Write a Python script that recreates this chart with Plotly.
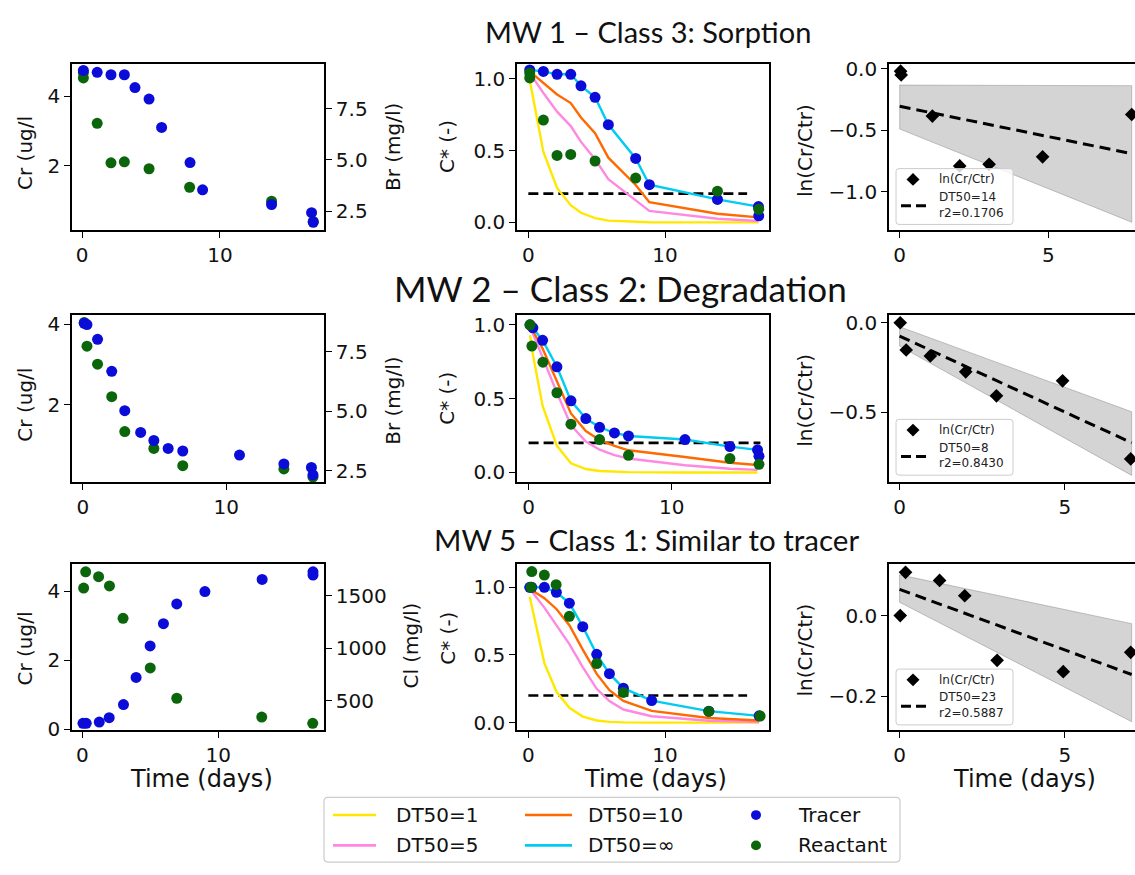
import plotly.graph_objects as go

W, H = 1135, 875

# ---------------- DATA ----------------
# MW 1 - Class 3: Sorption
mw1_br_t  = [0.1, 1.1, 2.1, 3.07, 3.84, 4.86, 5.77, 7.83, 8.74, 13.74, 16.64, 16.76]
mw1_br    = [9.38, 9.29, 9.17, 9.17, 8.54, 7.98, 6.59, 4.87, 3.54, 2.82, 2.42, 1.95]
mw1_cr_t  = [0.1, 0.1, 1.1, 2.1, 3.07, 4.86, 7.8, 13.74, 16.76]
mw1_cr    = [4.52, 4.68, 3.22, 2.09, 2.12, 1.92, 1.39, 0.99, 0.41]
mw1_ctr_t = [0.1, 1.1, 2.1, 3.1, 3.85, 4.88, 5.85, 7.85, 8.85, 13.83, 16.83, 16.85]
mw1_ctr   = [1.06, 1.05, 1.03, 1.03, 0.95, 0.87, 0.68, 0.445, 0.262, 0.16, 0.11, 0.046]
mw1_cre_t = [0.1, 0.1, 1.1, 2.1, 3.1, 4.88, 7.85, 13.83, 16.85]
mw1_cre   = [1.039, 1.005, 0.712, 0.466, 0.473, 0.427, 0.308, 0.217, 0.091]
mw1_mod_t = [0.1, 1.1, 2.1, 3.1, 3.85, 4.88, 5.85, 7.85, 8.85, 13.83, 16.83]
mw1_dt1   = [0.99, 0.49, 0.24, 0.12, 0.067, 0.03, 0.012, 0.003, 0.001, 0.0, 0.0]
mw1_dt5   = [1.04, 0.90, 0.77, 0.67, 0.56, 0.44, 0.30, 0.15, 0.08, 0.025, 0.01]
mw1_dt10  = [1.05, 0.97, 0.89, 0.83, 0.73, 0.62, 0.45, 0.26, 0.14, 0.06, 0.035]
mw1_dtinf = [1.06, 1.05, 1.03, 1.03, 0.95, 0.87, 0.68, 0.445, 0.262, 0.16, 0.11]
mw1_thr_t = [0.0, 16.0]
mw1_ln_t  = [0.03, 0.05, 1.1, 2.02, 3.01, 4.81, 7.81]
mw1_ln    = [-0.02, -0.05, -0.385, -0.79, -0.777, -0.716, -0.372]
mw1_fit_t = [0.0, 7.81]
mw1_fit   = [-0.305, -0.69]
mw1_ci_up = [-0.133, -0.138]
mw1_ci_lo = [-0.49, -1.247]
mw1_dt50, mw1_r2 = "14", "0.1706"

# MW 2 - Class 2: Degradation
mw2_br_t  = [0.09, 0.28, 1.02, 2.01, 2.92, 4.03, 4.95, 5.95, 6.97, 10.93, 14.03, 15.95, 16.06]
mw2_br    = [8.68, 8.63, 8.01, 6.67, 5.02, 4.11, 3.77, 3.44, 3.33, 3.16, 2.79, 2.64, 2.33]
mw2_cr_t  = [0.09, 0.28, 1.02, 2.01, 2.92, 4.95, 6.97, 14.03, 16.06]
mw2_cr    = [4.05, 3.46, 3.01, 2.2, 1.33, 0.91, 0.48, 0.40, 0.2]
mw2_ctr_t = [0.1, 0.3, 0.98, 1.98, 2.96, 4.0, 4.96, 6.0, 6.98, 10.93, 14.07, 16.0, 16.1]
mw2_ctr   = [1.0, 0.98, 0.895, 0.716, 0.485, 0.365, 0.306, 0.268, 0.247, 0.223, 0.175, 0.153, 0.11]
mw2_cre_t = [0.1, 0.23, 1.0, 1.98, 2.96, 4.96, 6.98, 14.07, 16.1]
mw2_cre   = [1.0, 0.856, 0.747, 0.54, 0.327, 0.223, 0.116, 0.094, 0.055]
mw2_mod_t = [0.1, 0.3, 0.98, 1.98, 2.96, 4.0, 4.96, 6.0, 6.98, 10.93, 14.07, 16.0]
mw2_dt1   = [0.93, 0.80, 0.45, 0.18, 0.062, 0.023, 0.01, 0.004, 0.002, 0.0, 0.0, 0.0]
mw2_dt5   = [0.99, 0.94, 0.78, 0.54, 0.32, 0.21, 0.154, 0.117, 0.094, 0.049, 0.025, 0.017]
mw2_dt10  = [0.99, 0.96, 0.84, 0.62, 0.40, 0.28, 0.22, 0.18, 0.15, 0.105, 0.066, 0.05]
mw2_dtinf = [1.0, 0.98, 0.895, 0.716, 0.485, 0.365, 0.306, 0.268, 0.247, 0.223, 0.175, 0.153]
mw2_thr_t = [0.0, 16.2]
mw2_ln_t  = [0.02, 0.2, 0.93, 2.0, 2.93, 4.93, 6.99]
mw2_ln    = [0.0, -0.152, -0.185, -0.274, -0.408, -0.324, -0.76]
mw2_fit_t = [0.0, 7.02]
mw2_fit   = [-0.074, -0.67]
mw2_ci_up = [-0.022, -0.497]
mw2_ci_lo = [-0.13, -0.852]
mw2_dt50, mw2_r2 = "8", "0.8430"

# MW 5 - Class 1: Similar to tracer
mw5_cl_t  = [0.05, 0.29, 1.25, 1.98, 3.03, 3.96, 4.99, 5.97, 6.95, 9.02, 13.23, 16.97, 16.97]
mw5_cl    = [284, 284, 297, 338, 463, 722, 1022, 1234, 1422, 1540, 1656, 1728, 1697]
mw5_cr_t  = [0.1, 0.25, 1.2, 2.0, 3.0, 5.0, 6.95, 13.2, 16.95]
mw5_cr    = [4.1, 4.57, 4.43, 4.16, 3.22, 1.78, 0.9, 0.354, 0.17]
mw5_ctr_t = [0.1, 0.25, 1.17, 2.05, 3.0, 3.98, 5.0, 5.93, 6.95, 9.02, 13.2, 16.88]
mw5_ctr   = [1.0, 1.0, 1.0, 0.963, 0.883, 0.709, 0.505, 0.362, 0.255, 0.163, 0.085, 0.05]
mw5_cre_t = [0.2, 0.25, 1.17, 2.03, 3.0, 5.0, 6.95, 13.2, 16.95]
mw5_cre   = [1.0, 1.116, 1.09, 1.019, 0.786, 0.437, 0.223, 0.083, 0.049]
mw5_mod_t = [0.1, 1.17, 2.05, 3.0, 3.98, 5.0, 5.93, 6.95, 9.02, 13.2, 16.88]
mw5_dt1   = [0.93, 0.44, 0.23, 0.11, 0.045, 0.016, 0.006, 0.002, 0.0, 0.0, 0.0]
mw5_dt5   = [0.99, 0.85, 0.72, 0.58, 0.41, 0.25, 0.16, 0.097, 0.047, 0.014, 0.005]
mw5_dt10  = [0.99, 0.92, 0.84, 0.72, 0.54, 0.36, 0.24, 0.16, 0.087, 0.034, 0.016]
mw5_dtinf = [1.0, 1.0, 0.963, 0.883, 0.709, 0.505, 0.362, 0.255, 0.163, 0.085, 0.05]
mw5_thr_t = [0.0, 16.0]
mw5_ln_t  = [0.02, 0.18, 1.21, 1.97, 2.95, 4.95, 6.99]
mw5_ln    = [0.0, 0.107, 0.087, 0.049, -0.111, -0.139, -0.091]
mw5_fit_t = [0.0, 7.02]
mw5_fit   = [0.065, -0.146]
mw5_ci_up = [0.101, -0.02]
mw5_ci_lo = [0.033, -0.263]
mw5_dt50, mw5_r2 = "23", "0.5887"

threshold = [0.2, 0.2]

titles = ["MW 1 \u2013 Class 3: Sorption", "MW 2 \u2013 Class 2: Degradation",
          "MW 5 \u2013 Class 1: Similar to tracer"]
tracer_labels = ["Br (mg/l)", "Br (mg/l)", "Cl (mg/l)"]
model_names = ["DT50=1", "DT50=5", "DT50=10", "DT50=\u221e"]
point_names = ["Tracer", "Reactant"]

# ---------------- STYLE / LAYOUT ----------------
C_YEL, C_PINK, C_ORG, C_CYAN = "#ffe800", "#ff88e2", "#ff6a00", "#00ccf2"
C_BLUE, C_GREEN = "#0c0cd8", "#0b660b"
TICKF = dict(family="DejaVu Sans", size=20, color="#111")
LABF = dict(family="DejaVu Sans", size=20, color="#111")

def fx(p): return p / W
def fy(p): return 1 - p / H

ROW_Y = [(58, 228), (314, 485), (569, 738)]
COL_X = [(72, 324), (517, 769), (889, 1135)]
XR = [[(-0.725, 17.54), (-0.83, 17.6), (-0.36, 7.92)],
      [(-0.764, 16.83), (-0.81, 16.8), (-0.32, 7.12)],
      [(-0.756, 17.78), (-0.83, 17.6), (-0.32, 7.12)]]
YR = [[(0.157, 4.926), (-0.055, 1.103), (-1.313, 0.04)],
      [(0.074, 4.247), (-0.065, 1.07), (-0.889, 0.046)],
      [(-0.017, 4.79), (-0.053, 1.17), (-0.283, 0.127)]]
YR2 = [(1.556, 9.705), (2.03, 9.05), (222.6, 1800)]
YT_L = [([2, 4], ["2", "4"]), ([2, 4], ["2", "4"]), ([0, 2, 4], ["0", "2", "4"])]
YT_R = [([2.5, 5, 7.5], ["2.5", "5.0", "7.5"]), ([2.5, 5, 7.5], ["2.5", "5.0", "7.5"]),
        ([500, 1000, 1500], ["500", "1000", "1500"])]
YT_LN = [([-1, -0.5, 0], ["\u22121.0", "\u22120.5", "0.0"]), ([-0.5, 0], ["\u22120.5", "0.0"]),
         ([-0.2, 0], ["\u22120.2", "0.0"])]

rows = [
    dict(br_t=mw1_br_t, br=mw1_br, cr_t=mw1_cr_t, cr=mw1_cr, ctr_t=mw1_ctr_t, ctr=mw1_ctr,
         cre_t=mw1_cre_t, cre=mw1_cre, mod_t=mw1_mod_t, mods=[mw1_dt1, mw1_dt5, mw1_dt10, mw1_dtinf],
         thr_t=mw1_thr_t, ln_t=mw1_ln_t, ln=mw1_ln, fit_t=mw1_fit_t, fit=mw1_fit,
         up=mw1_ci_up, lo=mw1_ci_lo, dt50=mw1_dt50, r2=mw1_r2),
    dict(br_t=mw2_br_t, br=mw2_br, cr_t=mw2_cr_t, cr=mw2_cr, ctr_t=mw2_ctr_t, ctr=mw2_ctr,
         cre_t=mw2_cre_t, cre=mw2_cre, mod_t=mw2_mod_t, mods=[mw2_dt1, mw2_dt5, mw2_dt10, mw2_dtinf],
         thr_t=mw2_thr_t, ln_t=mw2_ln_t, ln=mw2_ln, fit_t=mw2_fit_t, fit=mw2_fit,
         up=mw2_ci_up, lo=mw2_ci_lo, dt50=mw2_dt50, r2=mw2_r2),
    dict(br_t=mw5_cl_t, br=mw5_cl, cr_t=mw5_cr_t, cr=mw5_cr, ctr_t=mw5_ctr_t, ctr=mw5_ctr,
         cre_t=mw5_cre_t, cre=mw5_cre, mod_t=mw5_mod_t, mods=[mw5_dt1, mw5_dt5, mw5_dt10, mw5_dtinf],
         thr_t=mw5_thr_t, ln_t=mw5_ln_t, ln=mw5_ln, fit_t=mw5_fit_t, fit=mw5_fit,
         up=mw5_ci_up, lo=mw5_ci_lo, dt50=mw5_dt50, r2=mw5_r2),
]

fig = go.Figure()
layout = dict(width=W, height=H, margin=dict(l=0, r=0, t=0, b=0), showlegend=False,
              paper_bgcolor="white", plot_bgcolor="white")

def axis(**kw):
    d = dict(showline=True, linecolor="black", linewidth=1.6, ticks="outside", ticklen=6,
             tickwidth=1.4, tickcolor="black", showgrid=False, zeroline=False,
             tickfont=TICKF, fixedrange=True)
    d.update(kw)
    return d

model_colors = [C_YEL, C_PINK, C_ORG, C_CYAN]

for r, d in enumerate(rows):
    y0, y1 = ROW_Y[r]
    ydom = [fy(y1), fy(y0)]
    for c in range(3):
        n = r * 3 + c + 1
        xs = "" if n == 1 else str(n)
        x0, x1 = COL_X[c]
        xt = [0, 5] if c == 2 else [0, 10]
        layout["xaxis" + xs] = axis(domain=[fx(x0), fx(x1)], range=list(XR[r][c]), anchor="y" + xs,
                                   mirror=True, tickvals=xt, ticktext=[str(v) for v in xt])
        if c == 0:
            yv, yt = YT_L[r]
            layout["yaxis" + xs] = axis(domain=ydom, range=list(YR[r][c]), anchor="x" + xs,
                                       tickvals=yv, ticktext=yt)
            rv, rt = YT_R[r]
            layout["yaxis" + str(10 + r)] = axis(domain=ydom, range=list(YR2[r]), anchor="x" + xs,
                                                overlaying="y" + xs, side="right",
                                                tickvals=rv, ticktext=rt)
        elif c == 1:
            layout["yaxis" + xs] = axis(domain=ydom, range=list(YR[r][c]), anchor="x" + xs, mirror=True,
                                       tickvals=[0, 0.5, 1.0], ticktext=["0.0", "0.5", "1.0"])
        else:
            yv, yt = YT_LN[r]
            layout["yaxis" + xs] = axis(domain=ydom, range=list(YR[r][c]), anchor="x" + xs,
                                       tickvals=yv, ticktext=yt)

    nL, nM, nR = r * 3 + 1, r * 3 + 2, r * 3 + 3
    xL = "x" if nL == 1 else "x%d" % nL
    yL = "y" if nL == 1 else "y%d" % nL
    # left panel: reactant (left axis) then tracer (right axis)
    fig.add_trace(go.Scatter(x=d["cr_t"], y=d["cr"], mode="markers", xaxis=xL, yaxis=yL,
                             marker=dict(color=C_GREEN, size=11)))
    fig.add_trace(go.Scatter(x=d["br_t"], y=d["br"], mode="markers", xaxis=xL, yaxis="y%d" % (10 + r),
                             marker=dict(color=C_BLUE, size=11)))
    # middle panel
    xm, ym = "x%d" % nM, "y%d" % nM
    fig.add_trace(go.Scatter(x=d["thr_t"], y=threshold, mode="lines", xaxis=xm, yaxis=ym,
                             line=dict(color="black", width=2.6, dash="10px,5px")))
    for vals, col in zip(d["mods"], model_colors):
        fig.add_trace(go.Scatter(x=d["mod_t"], y=vals, mode="lines", xaxis=xm, yaxis=ym,
                                 line=dict(color=col, width=2.4)))
    fig.add_trace(go.Scatter(x=d["ctr_t"], y=d["ctr"], mode="markers", xaxis=xm, yaxis=ym,
                             marker=dict(color=C_BLUE, size=11)))
    fig.add_trace(go.Scatter(x=d["cre_t"], y=d["cre"], mode="markers", xaxis=xm, yaxis=ym,
                             marker=dict(color=C_GREEN, size=11)))
    # right panel
    xr, yr = "x%d" % nR, "y%d" % nR
    fig.add_trace(go.Scatter(x=d["fit_t"] + d["fit_t"][::-1] + d["fit_t"][:1],
                             y=d["up"] + d["lo"][::-1] + d["up"][:1],
                             mode="lines", fill="toself", fillcolor="rgba(128,128,128,0.34)",
                             line=dict(color="rgba(128,128,128,0.45)", width=1), xaxis=xr, yaxis=yr))
    fig.add_trace(go.Scatter(x=d["fit_t"], y=d["fit"], mode="lines", xaxis=xr, yaxis=yr,
                             line=dict(color="black", width=3, dash="11px,6px")))
    fig.add_trace(go.Scatter(x=d["ln_t"], y=d["ln"], mode="markers", xaxis=xr, yaxis=yr,
                             marker=dict(color="black", size=10.5, symbol="diamond")))

fig.update_layout(**layout)

# ---------------- annotations & legend boxes ----------------
ann = []
shapes = []

def text(x, y, s, font, xanchor="center", yanchor="middle", angle=0):
    ann.append(dict(x=fx(x), y=fy(y), xref="paper", yref="paper", text=s, showarrow=False,
                    font=font, xanchor=xanchor, yanchor=yanchor, textangle=angle))

def rrect(x0, y0, x1, y1, rad):
    pts = [("M", x0 + rad, y0), ("L", x1 - rad, y0), ("Q", x1, y0, x1, y0 + rad),
           ("L", x1, y1 - rad), ("Q", x1, y1, x1 - rad, y1), ("L", x0 + rad, y1),
           ("Q", x0, y1, x0, y1 - rad), ("L", x0, y0 + rad), ("Q", x0, y0, x0 + rad, y0)]
    out = ""
    for p in pts:
        cmd = p[0]
        coords = p[1:]
        segs = []
        for i in range(0, len(coords), 2):
            segs.append("%.5f,%.5f" % (fx(coords[i]), fy(coords[i + 1])))
        out += cmd + " ".join(segs) + " "
    return out + "Z"

TITLEF = [dict(family="Lato", size=29, color="#111"), dict(family="Lato", size=35, color="#111"),
          dict(family="Lato", size=29.5, color="#111")]
title_pos = [(648, 25), (620, 287), (646, 544)]
for i in range(3):
    text(title_pos[i][0], title_pos[i][1], titles[i], TITLEF[i])

ylab_pos = [dict(cr=(25, 149), tr=(393, 143), cs=(447, 143), ln=(805, 147)),
            dict(cr=(25, 406), tr=(393, 402), cs=(447, 400), ln=(805, 402)),
            dict(cr=(25, 655), tr=(411, 652), cs=(448, 645), ln=(805, 657))]
for r in range(3):
    p = ylab_pos[r]
    text(*p["cr"], "Cr (ug/l", LABF, angle=-90)
    text(*p["tr"], tracer_labels[r], LABF, angle=-90)
    text(*p["cs"], "C* (-)", LABF, angle=-90)
    text(*p["ln"], "ln(Cr/Ctr)", LABF, angle=-90)

TIMEF = dict(family="DejaVu Sans", size=24, color="#111")
for xc in (201, 655, 1024):
    text(xc, 788, "Time (days)", TIMEF)

# small legends in ln panels
SMALLF = dict(family="DejaVu Sans", size=12, color="#222")
for r, top in enumerate((165, 421, 676)):
    d = rows[r]
    shapes.append(dict(type="path", path=rrect(896, top, 1013, top + 57, 3), xref="paper", yref="paper",
                       fillcolor="rgba(255,255,255,0.82)", line=dict(color="#cccccc", width=1),
                       layer="above"))
    cx, cy, s = 913, top + 11, 6.5
    shapes.append(dict(type="path", xref="paper", yref="paper", layer="above",
                       path="M%.5f,%.5f L%.5f,%.5f L%.5f,%.5f L%.5f,%.5f Z" % (
                           fx(cx), fy(cy - s), fx(cx + s), fy(cy), fx(cx), fy(cy + s), fx(cx - s), fy(cy)),
                       fillcolor="black", line=dict(width=0)))
    shapes.append(dict(type="line", xref="paper", yref="paper", layer="above",
                       x0=fx(901), x1=fx(928), y0=fy(top + 38), y1=fy(top + 38),
                       line=dict(color="black", width=3, dash="10px,5px")))
    text(937, top + 11, "ln(Cr/Ctr)", SMALLF, xanchor="left")
    text(937, top + 29, "DT50=" + d["dt50"], SMALLF, xanchor="left")
    text(937, top + 45, "r2=" + d["r2"], SMALLF, xanchor="left")

# main legend
LEGF = dict(family="DejaVu Sans", size=20, color="#111")
shapes.append(dict(type="path", path=rrect(324, 807, 900, 873, 4), xref="paper", yref="paper",
                   fillcolor="white", line=dict(color="#cccccc", width=1.2)))
leg_cols = [(333, 376, 394), (525, 572, 586)]
for k, (name, col) in enumerate(zip(model_names, model_colors)):
    cidx, ridx = k // 2, k % 2
    xa, xb, xt = leg_cols[cidx]
    yy = (825, 856)[ridx]
    shapes.append(dict(type="line", xref="paper", yref="paper", x0=fx(xa), x1=fx(xb), y0=fy(yy), y1=fy(yy),
                       line=dict(color=col, width=2.6)))
    text(xt, yy, name, LEGF, xanchor="left")
for k, (name, col) in enumerate(zip(point_names, [C_BLUE, C_GREEN])):
    yy = (825, 856)[k]
    shapes.append(dict(type="circle", xref="paper", yref="paper", x0=fx(751), x1=fx(761),
                       y0=fy(yy + 5), y1=fy(yy - 5), fillcolor=col, line=dict(width=0)))
    text(796, yy, name, LEGF, xanchor="left")

fig.update_layout(annotations=ann, shapes=shapes)
fig.write_html("out.html")
